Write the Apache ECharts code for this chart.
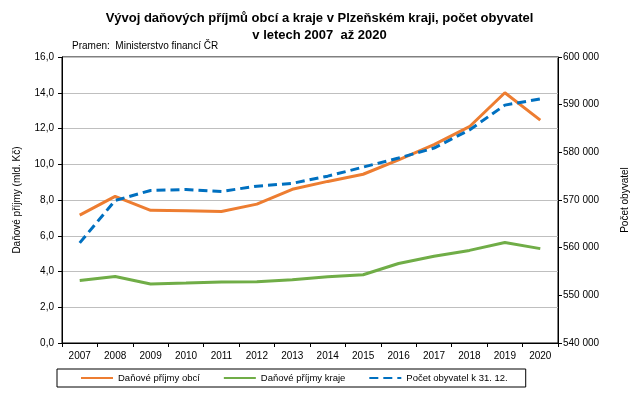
<!DOCTYPE html>
<html>
<head>
<meta charset="utf-8">
<script src="https://cdn.jsdelivr.net/npm/echarts@6/dist/echarts.min.js"></script>
<style>
  html, body { margin: 0; padding: 0; background: #fff; }
  #chart { width: 639px; height: 397px; }
</style>
</head>
<body>
<div id="chart"></div>
<script>
// roky na ose x
const years = ["2007", "2008", "2009", "2010", "2011", "2012", "2013",
  "2014", "2015", "2016", "2017", "2018", "2019", "2020"];
// daňové příjmy obcí, mld. Kč
const prijmyObci = [7.15, 8.2, 7.42, 7.4, 7.36, 7.77, 8.6, 9.04, 9.44, 10.25, 11.1, 12.1, 14.0, 12.47];
// daňové příjmy kraje, mld. Kč
const prijmyKraje = [3.5, 3.72, 3.3, 3.35, 3.41, 3.42, 3.54, 3.7, 3.82, 4.45, 4.85, 5.18, 5.62, 5.28];
// počet obyvatel k 31. 12.
const obyvatele = [561000, 569900, 572000, 572200, 571800, 572900, 573500,
  575000, 576900, 578800, 580900, 584700, 589900, 591200];

const seriesNames = ["Daňové příjmy obcí", "Daňové příjmy kraje", "Počet obyvatel k 31. 12."];
const font = "Liberation Sans, Arial, sans-serif";

const chart = echarts.init(document.getElementById("chart"));

const option = {
  animation: false,
  backgroundColor: "#fff",
  textStyle: { fontFamily: font },
  title: [
    {
      text: "Vývoj daňových příjmů obcí a kraje v Plzeňském kraji, počet obyvatel\nv letech 2007  až 2020",
      left: "center",
      top: 10,
      padding: 0,
      textStyle: { fontSize: 13, fontWeight: "bold", color: "#000", lineHeight: 17, fontFamily: font },
    },
    {
      text: "Pramen:  Ministerstvo financí ČR",
      left: 72,
      top: 41,
      padding: 0,
      textStyle: { fontSize: 10, fontWeight: "normal", color: "#000", fontFamily: font },
    },
  ],
  grid: {
    left: 62,
    right: 81,
    top: 57,
    bottom: 54,
    show: true,
    borderColor: "#000",
    borderWidth: 1,
  },
  legend: {
    data: seriesNames,
    orient: "horizontal",
    left: 57,
    top: 369,
    padding: [4, 18, 4, 23],
    itemWidth: 32,
    itemHeight: 10,
    itemGap: 23,
    borderColor: "#000",
    borderWidth: 1,
    itemStyle: { opacity: 0 },
    textStyle: { fontSize: 9.5, color: "#000", fontFamily: font },
  },
  xAxis: {
    type: "category",
    data: years,
    boundaryGap: true,
    axisLine: { lineStyle: { color: "#000", width: 1 } },
    axisTick: { show: true, length: 4, alignWithLabel: false, lineStyle: { color: "#000" } },
    axisLabel: { color: "#000", fontSize: 10, margin: 8 },
  },
  yAxis: [
    {
      type: "value",
      min: 0,
      max: 16,
      interval: 2,
      name: "Daňové příjmy (mld. Kč)",
      nameLocation: "middle",
      nameRotate: 90,
      nameGap: 40,
      nameTextStyle: { fontSize: 10, color: "#000" },
      axisLine: { show: true, lineStyle: { color: "#000" } },
      axisTick: { show: true, length: 4, lineStyle: { color: "#000" } },
      axisLabel: {
        color: "#000",
        fontSize: 10,
        margin: 8,
        formatter: (v) => v.toFixed(1).replace(".", ","),
      },
      splitLine: { show: true, lineStyle: { color: "#bfbfbf", width: 1 } },
    },
    {
      type: "value",
      min: 540000,
      max: 600000,
      interval: 10000,
      name: "Počet obyvatel",
      nameLocation: "middle",
      nameRotate: 90,
      nameGap: 62,
      nameTextStyle: { fontSize: 10, color: "#000" },
      axisLine: { show: true, lineStyle: { color: "#000" } },
      axisTick: { show: true, length: 4, lineStyle: { color: "#000" } },
      axisLabel: {
        color: "#000",
        fontSize: 10,
        margin: 5,
        formatter: (v) => String(v).replace(/\B(?=(\d{3})+(?!\d))/g, " "),
      },
      splitLine: { show: false },
    },
  ],
  series: [
    {
      name: seriesNames[0],
      type: "line",
      data: prijmyObci,
      yAxisIndex: 0,
      symbol: "none",
      color: "#ed7d31",
      itemStyle: { opacity: 0 },
      lineStyle: { color: "#ed7d31", width: 3 },
      z: 3,
    },
    {
      name: seriesNames[1],
      type: "line",
      data: prijmyKraje,
      yAxisIndex: 0,
      symbol: "none",
      color: "#70ad47",
      itemStyle: { opacity: 0 },
      lineStyle: { color: "#70ad47", width: 3 },
      z: 3,
    },
    {
      name: seriesNames[2],
      type: "line",
      data: obyvatele,
      yAxisIndex: 1,
      symbol: "none",
      color: "#0070c0",
      itemStyle: { opacity: 0 },
      lineStyle: { color: "#0070c0", width: 3, type: [9, 5] },
      z: 4,
    },
  ],
};

chart.setOption(option);
</script>
</body>
</html>
